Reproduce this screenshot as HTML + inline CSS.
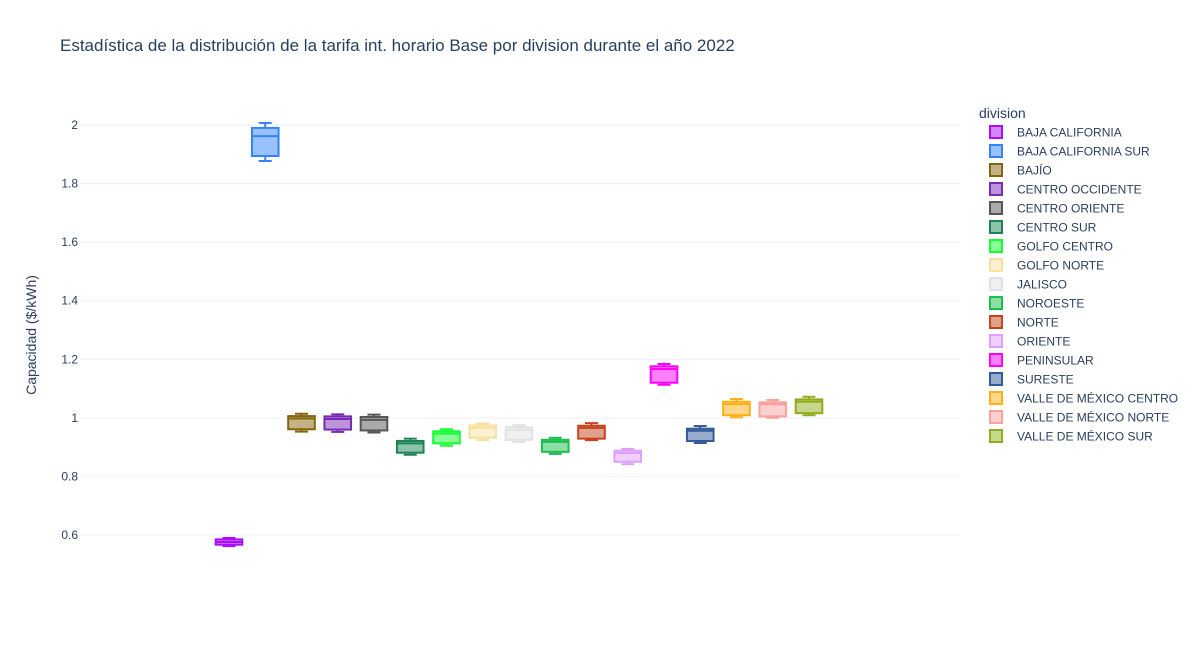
<!DOCTYPE html>
<html><head><meta charset="utf-8"><style>
body{margin:0;background:#fff;font-family:"Liberation Sans",Arial,sans-serif;}
svg text{font-family:"Liberation Sans",Arial,sans-serif;}
</style></head><body>
<svg id="chart" width="1200" height="650" xmlns="http://www.w3.org/2000/svg">
<rect width="1200" height="650" fill="#fff"/>
<text x="60" y="51" font-size="17" fill="#2a3f5f">Estadística de la distribución de la tarifa int. horario Base por division durante el año 2022</text>
<g id="grid"></g><g id="boxes"></g><g id="legend"></g>
<text transform="translate(36,335) rotate(-90)" text-anchor="middle" font-size="14" fill="#2a3f5f">Capacidad ($/kWh)</text>
</svg>
<script>
const divisions=["BAJA CALIFORNIA","BAJA CALIFORNIA SUR","BAJÍO","CENTRO OCCIDENTE","CENTRO ORIENTE","CENTRO SUR","GOLFO CENTRO","GOLFO NORTE","JALISCO","NOROESTE","NORTE","ORIENTE","PENINSULAR","SURESTE","VALLE DE MÉXICO CENTRO","VALLE DE MÉXICO NORTE","VALLE DE MÉXICO SUR"];
const colors=["#AA0DFE","#3283FE","#85660D","#782AB6","#565656","#1C8356","#16FF32","#F7E1A0","#E2E2E2","#1CBE4F","#C4451C","#DEA0FD","#FE00FA","#325A9B","#FEAF16","#F8A19F","#90AD1C"];
const mins=[0.562,1.877,0.953,0.952,0.950,0.874,0.905,0.924,0.918,0.877,0.924,0.842,1.113,0.914,1.002,1.000,1.009];
const q1s=[0.567,1.894,0.961,0.960,0.957,0.881,0.913,0.932,0.925,0.884,0.929,0.850,1.120,0.921,1.009,1.005,1.016];
const medians=[0.576,1.962,0.998,0.996,0.993,0.913,0.946,0.966,0.959,0.918,0.966,0.880,1.167,0.956,1.047,1.046,1.055];
const q3s=[0.585,1.990,1.006,1.005,1.003,0.921,0.954,0.974,0.968,0.925,0.973,0.888,1.176,0.963,1.055,1.053,1.063];
const maxs=[0.590,2.007,1.014,1.012,1.011,0.929,0.961,0.981,0.975,0.932,0.982,0.894,1.184,0.972,1.064,1.061,1.072];
const yTicks=[0.6,0.8,1,1.2,1.4,1.6,1.8,2];
const NS="http://www.w3.org/2000/svg";
const y=v=>535-(v-0.6)*292.86;
const xc=i=>229+i*36.25;
function mk(t,a,p){const e=document.createElementNS(NS,t);for(const k in a)e.setAttribute(k,a[k]);p.appendChild(e);return e;}
const grid=document.getElementById('grid');
yTicks.forEach(t=>{
  const l=mk('line',{x1:80,x2:960,y1:y(t),y2:y(t),stroke:'#EBF0F8','stroke-width':1},grid);
  
  
  const tx=mk('text',{x:78,y:y(t)+4,'text-anchor':'end','font-size':12,fill:'#2a3f5f'},grid);
  tx.textContent=String(t);
  
  
});
const bg=document.getElementById('boxes');
divisions.forEach((d,i)=>{
  const c=colors[i],x=xc(i),w=13.3,cw=6.5;
  const g=mk('g',{stroke:c,'stroke-width':2,fill:'none'},bg);
  
  
  mk('rect',{x:x-w,y:y(q3s[i]),width:2*w,height:y(q1s[i])-y(q3s[i]),fill:c,'fill-opacity':0.5},g);
  mk('line',{x1:x-w,x2:x+w,y1:y(medians[i]),y2:y(medians[i])},g);
  mk('line',{x1:x,x2:x,y1:y(q3s[i]),y2:y(maxs[i])},g);
  mk('line',{x1:x,x2:x,y1:y(q1s[i]),y2:y(mins[i])},g);
  mk('line',{x1:x-cw,x2:x+cw,y1:y(maxs[i]),y2:y(maxs[i])},g);
  mk('line',{x1:x-cw,x2:x+cw,y1:y(mins[i]),y2:y(mins[i])},g);
});
const lg=document.getElementById('legend');
const tt=mk('text',{x:979,y:118,'font-size':14,fill:'#2a3f5f'},lg);
tt.textContent='division';


divisions.forEach((d,i)=>{
  const yy=132+i*19;
  const g=mk('g',{},lg);
  
  
  mk('rect',{x:990,y:yy-6,width:12,height:12,fill:colors[i],'fill-opacity':0.5,stroke:colors[i],'stroke-width':2},g);
  const t=mk('text',{x:1017,y:yy+4.5,'font-size':12,fill:'#2a3f5f'},g);
  t.textContent=d;
});
</script>
</body></html>
